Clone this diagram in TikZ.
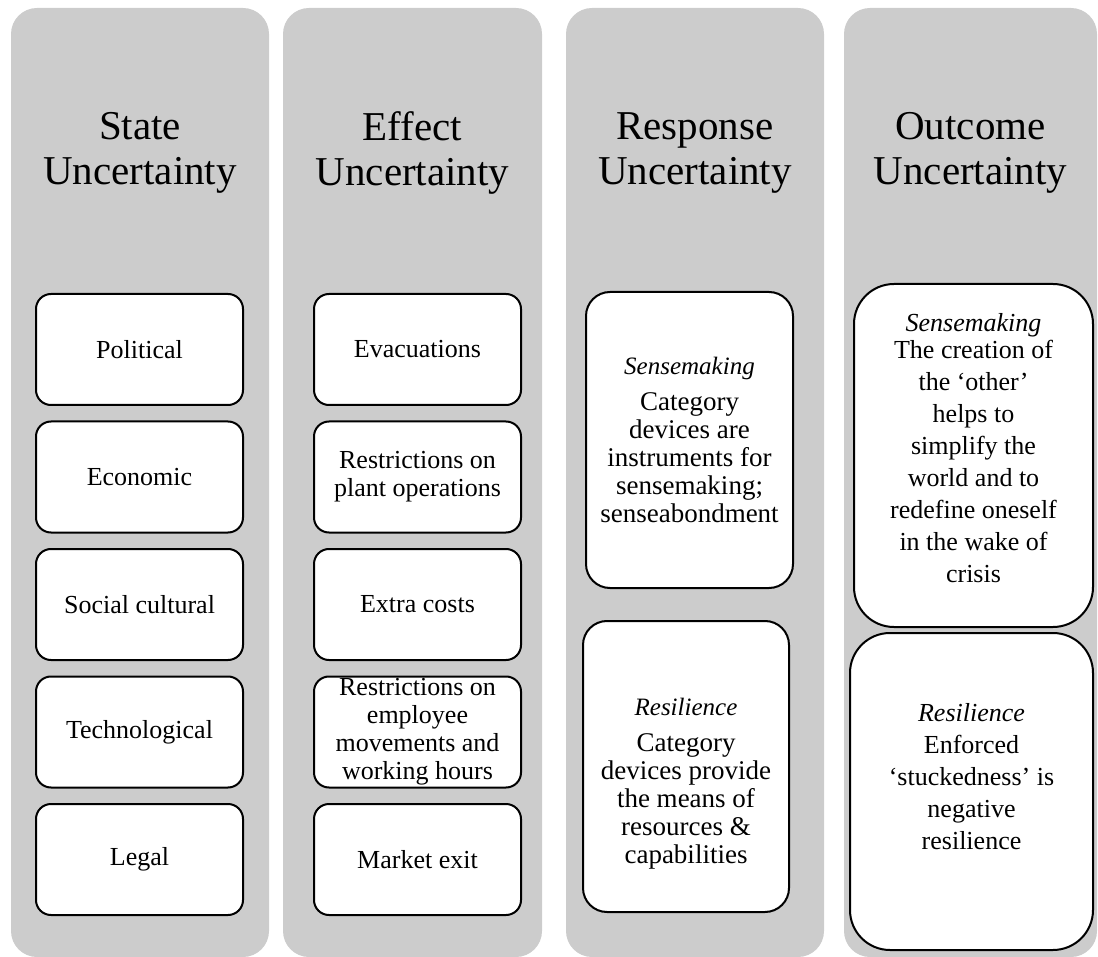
\documentclass[tikz,border=0pt]{standalone}
\usepackage{fontspec}
\setmainfont{Liberation Serif}
\definecolor{colbg}{RGB}{204,204,204}
\begin{document}
\begin{tikzpicture}[x=1pt,y=-1pt,
  colnode/.style={fill=colbg, draw=none, rounded corners=26pt, inner sep=0pt, outer sep=0pt, minimum height=949pt},
  headtext/.style={align=center, inner sep=0pt, font=\fontsize{41}{45}\selectfont},
  smallbox/.style={draw=black, fill=white, line width=2pt, rounded corners=15pt, inner sep=0pt,
    minimum width=207pt, minimum height=111pt, align=center, font=\fontsize{26}{28}\selectfont},
  midbox/.style={draw=black, fill=white, line width=2pt, rounded corners=24pt, inner sep=0pt},
  midtext/.style={align=center, inner sep=0pt, font=\fontsize{27}{28}\selectfont},
  bigbox/.style={draw=black, fill=white, line width=2pt, rounded corners=40pt, inner sep=0pt},
  bigtext/.style={align=center, inner sep=0pt, font=\fontsize{26}{32}\selectfont}
]
\useasboundingbox (0,0) rectangle (1098,957);
% columns
\node[colnode, minimum width=258pt] (c1) at (140,482.5) {};
\node[colnode, minimum width=259pt] (c2) at (412.5,482.5) {};
\node[colnode, minimum width=258pt] (c3) at (695,482.5) {};
\node[colnode, minimum width=253pt] (c4) at (970.5,482.5) {};
% headers
\node[headtext] (h1) at (140,153) {State\\Uncertainty};
\node[headtext] (h2) at (412.5,153) {Effect\\Uncertainty};
\node[headtext] (h3) at (695,153) {Response\\Uncertainty};
\node[headtext] (h4) at (970.5,153) {Outcome\\Uncertainty};
% column 1
\node[smallbox] (s1) at (139.5,349.5) {Political};
\node[smallbox] (s2) at (139.5,477) {Economic};
\node[smallbox] (s3) at (139.5,604.5) {Social cultural};
\node[smallbox] (s4) at (139.5,732) {Technological};
\node[smallbox] (s5) at (139.5,859.5) {Legal};
% column 2
\node[smallbox] (e1) at (417.5,349.5) {Evacuations};
\node[smallbox] (e2) at (417.5,477) {Restrictions on\\plant operations};
\node[smallbox] (e3) at (417.5,604.5) {Extra costs};
\node[smallbox] (e4) at (417.5,732) {Restrictions on\\employee\\movements and\\working hours};
\node[smallbox] (e5) at (417.5,859.5) {Market exit};
% column 3
\node[midbox, minimum width=207pt, minimum height=296pt] (r1) at (689.5,440) {};
\node[midtext] (r1t) at (r1.center)
  {{\fontsize{25}{28}\selectfont\itshape Sensemaking}\\[8pt]Category\\devices are\\instruments for\\sensemaking;\\senseabondment};
\node[midbox, minimum width=206pt, minimum height=291pt] (r2) at (686,766.5) {};
\node[midtext] (r2t) at ([yshift=-17pt]r2.center)
  {{\fontsize{25}{28}\selectfont\itshape Resilience}\\[8pt]Category\\devices provide\\the means of\\resources \&\\capabilities};
% column 4
\node[bigbox, minimum width=239pt, minimum height=343pt] (o1) at (973.5,455.5) {};
\node[bigtext] (o1t) at ([yshift=7.5pt]o1.center)
  {{\itshape Sensemaking}\\[-5pt]The creation of\\the ‘other’\\helps to\\simplify the\\world and to\\redefine oneself\\in the wake of\\crisis};
\node[bigbox, minimum width=243pt, minimum height=317pt] (o2) at (971.5,791.5) {};
\node[bigtext] (o2t) at ([yshift=15pt]o2.center)
  {{\itshape Resilience}\\Enforced\\‘stuckedness’ is\\negative\\resilience};
\end{tikzpicture}
\end{document}
